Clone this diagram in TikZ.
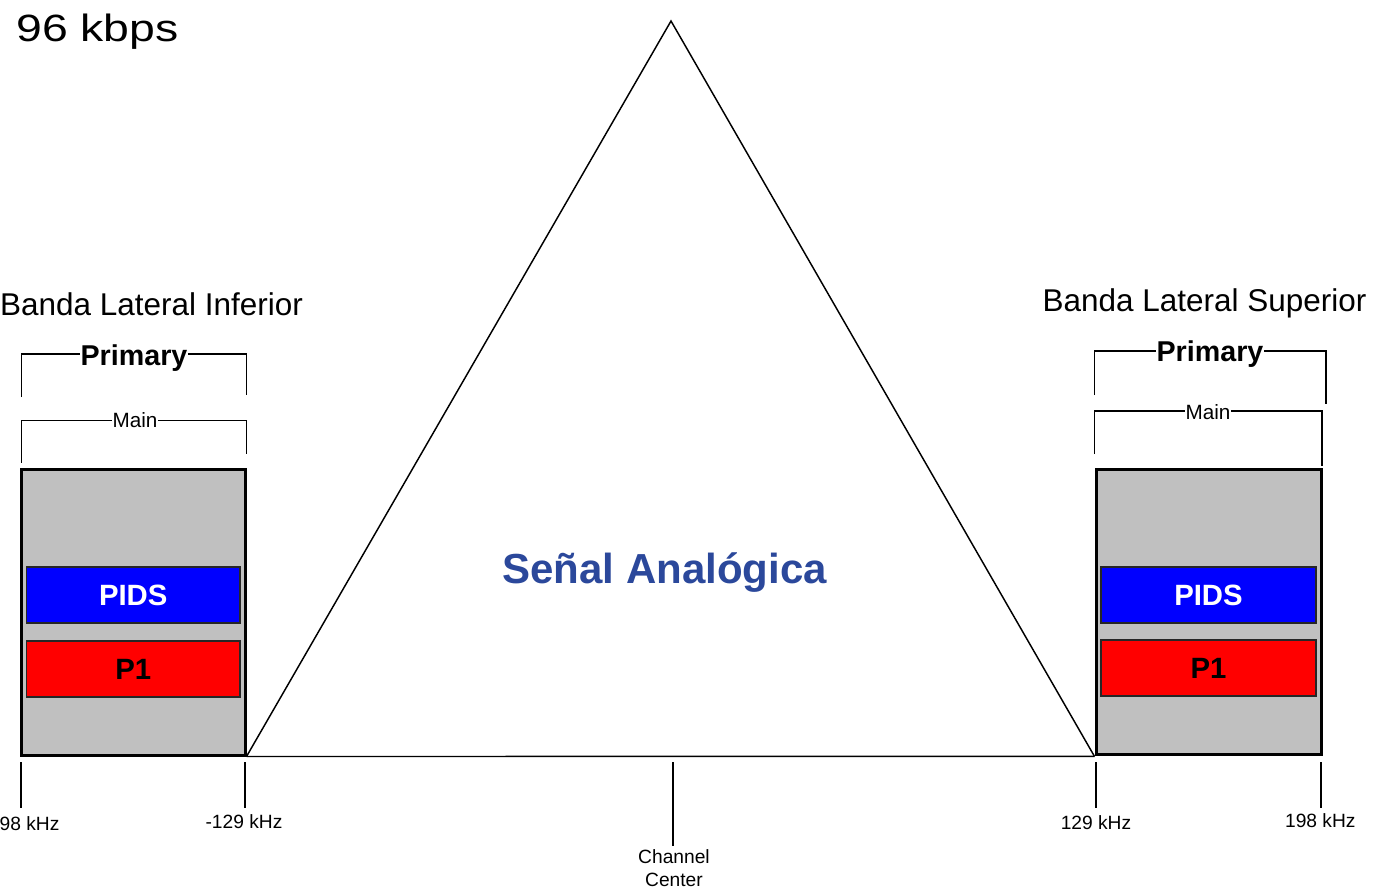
\documentclass[tikz,border=0pt]{standalone}
\usepackage{fontspec}
\setmainfont{Liberation Sans}
\definecolor{bandgray}{RGB}{192,192,192}
\definecolor{pidsblue}{RGB}{0,0,255}
\definecolor{poneRed}{RGB}{255,0,0}
\definecolor{analogblue}{RGB}{43,72,155}
\begin{document}
\begin{tikzpicture}[x=0.75pt,y=-0.75pt,
  band/.style={draw=black, line width=2.25pt, fill=bandgray, inner sep=0pt},
  chan/.style={draw=black!85, line width=1pt, inner sep=0pt,
    minimum height=42pt, font=\fontsize{22}{26}\selectfont\bfseries},
  thin/.style={line width=1.1pt},
  tick/.style={line width=1.5pt},
  brk/.style={line width=1.1pt},
  brktext/.style={fill=white, inner sep=0.6pt, anchor=base},
  freq/.style={anchor=base, inner sep=0pt, font=\fontsize{14.4}{17}\selectfont},
  side/.style={anchor=base, inner sep=0pt, font=\fontsize{23.6}{28}\selectfont}]
\useasboundingbox (0,0) rectangle (1375,891);

% title
\node[anchor=base west, inner sep=0pt, font=\fontsize{28.5}{34}\selectfont]
  (rate) at (16,41.7) {\scalebox{1.22}[1]{96 kbps}};

% sidebands
\node[band, minimum width=168pt, minimum height=214.5pt] (lsb) at (133,612) {};
\node[band, minimum width=168.75pt, minimum height=214.1pt] (usb) at (1208.5,612.2) {};

\node[chan, fill=pidsblue, text=white, minimum width=160.1pt] (lpids) at (133.25,595) {PIDS};
\node[chan, fill=poneRed, text=black, minimum width=160.1pt] (lp1) at (133.25,669) {P1};
\node[chan, fill=pidsblue, text=white, minimum width=161.25pt] (upids) at (1208.5,595) {PIDS};
\node[chan, fill=poneRed, text=black, minimum width=161.25pt] (up1) at (1208.5,668) {P1};

% analog signal
\coordinate (apex) at (671,21);
\draw[thin] (lsb.south east) -- (apex) -- (usb.south west);
\draw[thin] (lsb.south east) -- (usb.south west);
\node[anchor=base, inner sep=0pt, text=analogblue,
  font=\fontsize{31.5}{38}\selectfont\bfseries] (analog) at (664.7,583.3) {Señal Analógica};

% side labels
\node[side] (lower) at (151.5,316) {Banda Lateral Inferior};
\node[side] (upper) at (1204.5,312) {Banda Lateral Superior};

% brackets, lower side
\draw[brk] (21.7,397) |- (246.7,354) -- (246.7,395);
\node[brktext, font=\fontsize{21.5}{26}\selectfont\bfseries] (lprim) at (134,366) {Primary};
\draw[brk] (21.7,462.7) |- (246.7,420.5) -- (246.7,454.3);
\node[brktext, font=\fontsize{15.5}{19}\selectfont] (lmain) at (135,427.7) {Main};

% brackets, upper side
\draw[brk] (1094.3,395) |- (1326,351) -- (1326,404);
\node[brktext, font=\fontsize{21.5}{26}\selectfont\bfseries] (uprim) at (1210,361.7) {Primary};
\draw[brk] (1094.3,454) |- (1322,411) -- (1322,466);
\node[brktext, font=\fontsize{15.5}{19}\selectfont] (umain) at (1208,419.3) {Main};

% frequency ticks
\coordinate (t1a) at (21,762);   \coordinate (t1b) at (21,808);
\coordinate (t2a) at (245,762);  \coordinate (t2b) at (245,808);
\coordinate (t3a) at (1096,762); \coordinate (t3b) at (1096,808);
\coordinate (t4a) at (1321,762); \coordinate (t4b) at (1321,808);
\coordinate (t5a) at (673.3,762); \coordinate (t5b) at (673.3,845.7);
\foreach \t in {1,...,5} \draw[tick] (t\t a) -- (t\t b);

\node[freq] (f1) at (21,830) {-198 kHz};
\node[freq] (f2) at (244,828.3) {-129 kHz};
\node[freq] (f3) at (1096,829.3) {129 kHz};
\node[freq] (f4) at (1320.3,827.7) {198 kHz};
\node[freq] (cc1) at (674,863.3) {Channel};
\node[freq] (cc2) at (674,886.7) {Center};
\end{tikzpicture}
\end{document}
